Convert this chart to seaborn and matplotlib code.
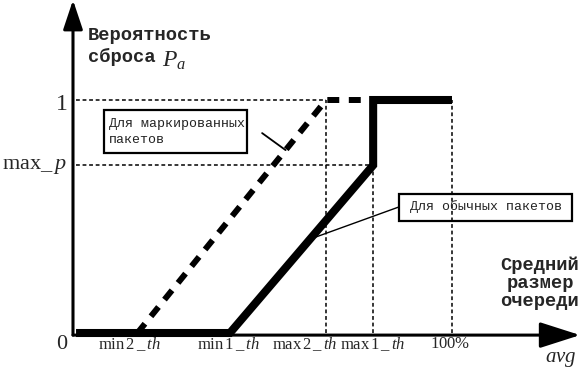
import matplotlib
matplotlib.use("Agg")
import matplotlib.pyplot as plt
from matplotlib.patches import Rectangle
import seaborn as sns
import pandas as pd

# thresholds on the avg axis (100% = full queue)
threshold_names = ["min2_th", "min1_th", "max2_th", "max1_th", "100%"]
threshold_x = [17.0, 41.4, 66.8, 79.2, 100.0]
max_p = 0.72

min2_th, min1_th, max2_th, max1_th, full = threshold_x

# drop-probability profiles
regular_x = [0.8, min1_th, max1_th, max1_th, full]
regular_p = [0.0, 0.0, max_p, 1.0, 1.0]
marked_x = [min2_th, max2_th, max1_th]
marked_p = [0.0, 1.0, 1.0]

tick_labels = [r"$\mathrm{min}\,2\,\_\,\mathit{th}$", r"$\mathrm{min}\,1\,\_\,\mathit{th}$",
               r"$\mathrm{max}\,2\,\_\,\mathit{th}$", r"$\mathrm{max}\,1\,\_\,\mathit{th}$",
               r"$\mathrm{100\%}$"]
tick_label_x = [15.0, 41.0, 61.2, 79.0, 99.5]

sns.set_theme(style="white")
plt.rcParams["font.family"] = ["Liberation Mono", "DejaVu Sans"]
plt.rcParams["mathtext.fontset"] = "custom"
plt.rcParams["mathtext.rm"] = "Liberation Serif"
plt.rcParams["mathtext.it"] = "Liberation Serif:italic"

fig = plt.figure(figsize=(5.81, 3.68), dpi=100)
ax = fig.add_axes([0, 0, 1, 1])

# axes with arrows
ax.annotate("", xy=(133.8, -0.009), xytext=(0, -0.009),
            arrowprops=dict(arrowstyle="-|>,head_length=1.25,head_width=0.4",
                            lw=2.2, color="black", shrinkA=0, shrinkB=0, mutation_scale=20))
ax.annotate("", xy=(0, 1.429), xytext=(0, -0.009),
            arrowprops=dict(arrowstyle="-|>,head_length=0.9,head_width=0.3",
                            lw=2.2, color="black", shrinkA=0, shrinkB=0, mutation_scale=20))

# dotted guides
dot = (0, (2.5, 1.8))
ax.hlines(1.0, 0.8, max2_th, color="black", lw=1.1, linestyle=dot)
ax.hlines(max_p, 0.8, max1_th, color="black", lw=1.1, linestyle=dot)
ax.vlines(max2_th, 0, 1.0, color="black", lw=1.1, linestyle=dot)
ax.vlines(max1_th, 0, max_p, color="black", lw=1.1, linestyle=dot)
ax.vlines(full, 0, 1.0, color="black", lw=1.1, linestyle=dot)

regular = pd.DataFrame({"avg": regular_x, "p": regular_p})
marked = pd.DataFrame({"avg": marked_x, "p": marked_p})
sns.lineplot(data=marked, x="avg", y="p", sort=False, estimator=None, ax=ax,
             color="black", lw=4.3, linestyle=(0, (2.0, 1.6)), dash_capstyle="butt")
sns.lineplot(data=regular, x="avg", y="p", sort=False, estimator=None, ax=ax,
             color="black", lw=5.8, solid_capstyle="butt", solid_joinstyle="miter")
ax.set_xlim(-19.26, 134.04)
ax.set_ylim(-0.1502, 1.4292)
ax.axis("off")

# labels
ax.text(3.96, 1.313, "Вероятность", fontsize=13.5, fontweight="bold", ha="left", va="top")
ax.text(3.96, 1.223, "сброса", fontsize=13.5, fontweight="bold", ha="left", va="top")
ax.text(23.4, 1.142, r"$P_a$", fontsize=17, ha="left", va="baseline")
ax.text(123.2, 0.330, "Средний\nразмер\nочереди", fontsize=13.5, fontweight="bold",
        ha="center", va="top", linespacing=1.1, multialignment="center")
ax.text(-3.2, 0.983, r"$1$", fontsize=17, ha="center", va="center")
ax.text(-1.6, max_p, r"$\mathrm{max}\_\,p$", fontsize=16, ha="right", va="center")
ax.text(-2.9, -0.047, r"$0$", fontsize=16, ha="center", va="center")
for lx, lab in zip(tick_label_x, tick_labels):
    ax.text(lx, -0.047, lab, fontsize=12, ha="center", va="center")
ax.text(128.8, -0.112, r"$\mathit{avg}$", fontsize=15, ha="center", va="center")

# callout boxes
ax.add_patch(Rectangle((8.18, 0.773), 37.7, 0.184, fill=False, lw=1.6, ec="black"))
ax.text(9.4, 0.862, "Для маркированных\nпакетов", fontsize=9.5, color="#222222",
        ha="left", va="center", linespacing=1.4)
ax.add_patch(Rectangle((86.0, 0.481), 45.7, 0.116, fill=False, lw=1.6, ec="black"))
ax.text(88.9, 0.541, "Для обычных пакетов", fontsize=9.5, color="#222222",
        ha="left", va="center")

y1 = 0.785
ax.plot([49.9, min2_th + y1 * (max2_th - min2_th)], [0.858, y1], color="black", lw=1.3)
y2 = 0.403
ax.plot([86.0, min1_th + y2 / max_p * (max1_th - min1_th)], [0.541, y2], color="black", lw=1.0)

fig.savefig("out.png", dpi=100)
